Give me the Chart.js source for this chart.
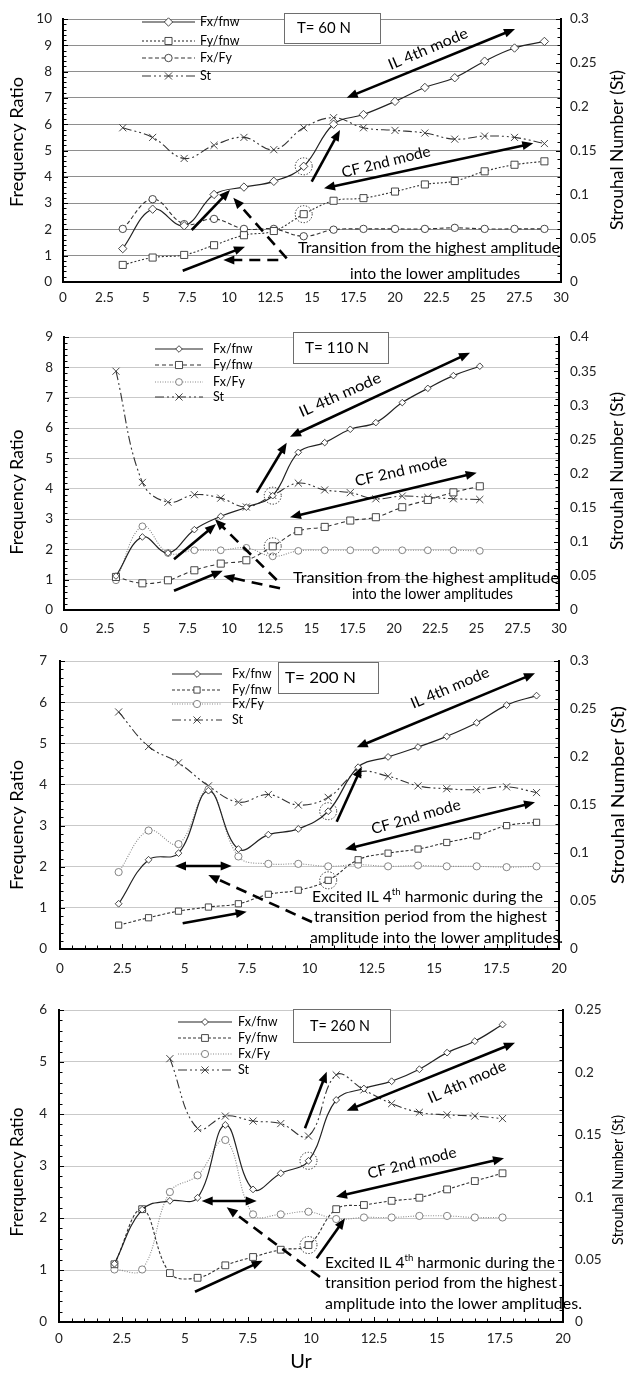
<!DOCTYPE html>
<html><head><meta charset="utf-8">
<script src="https://cdn.jsdelivr.net/npm/chart.js@4.4.1/dist/chart.umd.min.js"></script>
<style>
html,body{margin:0;padding:0;background:#fff;overflow:hidden}
#wrap{position:relative;width:627px;height:1374px;background:#fff}
#wrap canvas{position:absolute;left:0}
</style></head><body>
<div id="wrap">
<canvas id="c60"></canvas><canvas id="c110"></canvas><canvas id="c200"></canvas><canvas id="c260"></canvas>
</div>
<script>
// ---------- tick values ----------
const xTicks30 = [0,2.5,5,7.5,10,12.5,15,17.5,20,22.5,25,27.5,30];
const xTicks20 = [0,2.5,5,7.5,10,12.5,15,17.5,20];
const frTicks60 = [0,1,2,3,4,5,6,7,8,9,10];
const frTicks110 = [0,1,2,3,4,5,6,7,8,9];
const frTicks200 = [0,1,2,3,4,5,6,7];
const frTicks260 = [0,1,2,3,4,5,6];
const stTicks60 = [0,0.05,0.1,0.15,0.2,0.25,0.3];
const stTicks110 = [0,0.05,0.1,0.15,0.2,0.25,0.3,0.35,0.4];
const stTicks200 = [0,0.05,0.1,0.15,0.2,0.25,0.3];
const stTicks260 = [0,0.05,0.1,0.15,0.2,0.25];
const seriesNames = ['Fx/fnw','Fy/fnw','Fx/Fy','St'];

// ---------- T = 60 N ----------
const ur60 = [3.6,5.4,7.3,9.1,10.9,12.7,14.5,16.3,18.1,20.0,21.8,23.6,25.4,27.2,29.0];
const fxfnw60 = [1.27,2.77,2.14,3.33,3.61,3.83,4.4,6.0,6.37,6.87,7.4,7.77,8.4,8.9,9.15];
const fyfnw60 = [0.65,0.93,1.03,1.4,1.78,1.94,2.58,3.09,3.19,3.44,3.71,3.84,4.21,4.46,4.59];
const fxfy60 = [2.02,3.15,2.2,2.4,2.02,2.02,1.74,1.99,2.02,2.02,2.02,2.06,2.02,2.02,2.02];
const st60 = [0.176,0.165,0.141,0.156,0.165,0.151,0.176,0.1875,0.176,0.173,0.170,0.163,0.1665,0.165,0.158];

// ---------- T = 110 N ----------
const ur110 = [3.15,4.75,6.3,7.9,9.5,11.05,12.65,14.2,15.8,17.35,18.9,20.5,22.05,23.6,25.2];
const fxfnw110 = [1.12,2.41,1.88,2.65,3.09,3.39,3.77,5.2,5.52,5.96,6.18,6.84,7.31,7.73,8.04];
const fyfnw110 = [1.09,0.88,0.98,1.31,1.53,1.64,2.1,2.6,2.74,2.95,3.06,3.39,3.63,3.88,4.08];
const fxfy110 = [0.98,2.76,1.88,1.97,1.97,2.05,1.77,1.95,1.97,1.97,1.97,1.97,1.97,1.97,1.95];
const st110 = [0.350,0.187,0.158,0.169,0.164,0.151,0.168,0.186,0.176,0.172,0.163,0.167,0.165,0.163,0.162];

// ---------- T = 200 N ----------
const ur200 = [2.35,3.55,4.75,5.95,7.15,8.35,9.55,10.75,11.95,13.15,14.35,15.5,16.7,17.9,19.1];
const fxfnw200 = [1.1,2.17,2.33,3.85,2.43,2.78,2.92,3.35,4.42,4.67,4.91,5.17,5.5,5.93,6.16];
const fyfnw200 = [0.58,0.76,0.92,1.02,1.1,1.33,1.43,1.67,2.17,2.33,2.43,2.59,2.75,3.0,3.08];
const fxfy200 = [1.87,2.88,2.55,3.88,2.25,2.07,2.07,2.01,2.05,2.01,2.03,2.01,2.01,1.99,2.01];
const st200 = [0.247,0.211,0.194,0.170,0.153,0.161,0.150,0.158,0.184,0.180,0.170,0.167,0.166,0.169,0.163];

// ---------- T = 260 N ----------
const ur260 = [2.2,3.3,4.4,5.5,6.6,7.7,8.8,9.9,11.0,12.1,13.2,14.3,15.4,16.5,17.6];
const fxfnw260 = [1.12,2.16,2.33,2.39,3.79,2.55,2.86,3.1,4.27,4.49,4.63,4.86,5.18,5.4,5.72];
const fyfnw260 = [1.11,2.17,0.94,0.85,1.09,1.25,1.39,1.48,2.17,2.25,2.33,2.39,2.55,2.71,2.86];
const fxfy260 = [1.01,1.01,2.5,2.82,3.5,2.07,2.07,2.12,1.98,2.01,2.01,2.04,2.04,2.01,2.01];
const st260 = [null,null,0.211,0.155,0.165,0.161,0.159,0.149,0.198,0.186,0.175,0.168,0.166,0.165,0.163];

const FONT = 'Lato, "Open Sans", sans-serif';
const TXT = '#000';

const panels = [
 {id:'c60', top:0, h:305, padTop:16, xH:23, yW:63, y2W:66, ytPad:11, y2tPad:9, xtPad:8, xMinor:false,
  xTicks:xTicks30, yTicks:frTicks60, y2Ticks:stTicks60,
  ur:ur60, s:[fxfnw60,fyfnw60,fxfy60,st60], grid:'#8e8e8e',
  dash:[[],[2,2],[4,2.5],[9,3,2,3,2,3]], col:['#222','#333','#333','#333'], rad:[4.2,5,3.7,5],
  leg:{x1:142,x2:195,tx:200,rows:[22,41,58,76]},
  box:{x:284.5,y:13.5,w:96,h:30,text:'T= 60 N',tx:297,tw:54,size:15},
  ylab:{x:18,y:142,w:130,text:'Frequency Ratio',size:17}, y2lab:{x:618,y:150,w:160,size:17},
  rot:[{t:'IL 4th mode',x:428,y:49,w:85,a:-23},{t:'CF 2nd mode',x:386,y:162,w:91,a:-14}],
  para:[{t:'Transition from the highest amplitude',x:298,y:248,w:262,size:16},{t:'into the lower amplitudes',x:350,y:274,w:170,size:16}],
  arrows:[{x1:346.7,y1:97.7,x2:515,y2:29,both:1},{x1:311.7,y1:181.7,x2:340,y2:130},
   {x1:324,y1:188.3,x2:533.3,y2:143.3,both:1},{x1:191.7,y1:230,x2:230,y2:190},
   {x1:182.7,y1:270.7,x2:245,y2:246.7},{x1:286.7,y1:258.3,x2:233.3,y2:197.7,dash:1},
   {x1:278.3,y1:260,x2:223.3,y2:260,dash:1}],
  circles:[[0,6],[1,6]]},
 {id:'c110', top:318, h:322, padTop:18, xH:30, yW:64, y2W:68, ytPad:11, y2tPad:11, xtPad:11, xMinor:false,
  xTicks:xTicks30, yTicks:frTicks110, y2Ticks:stTicks110,
  ur:ur110, s:[fxfnw110,fyfnw110,fxfy110,st110], grid:'#c9c9c9',
  dash:[[],[4,3],[1,1.5],[9,3,2,3,2,3]], col:['#222','#333','#8a8a8a','#333'], rad:[3.3,5,3.4,5],
  leg:{x1:155,x2:203,tx:213,rows:[349,365,382,397]},
  box:{x:293.5,y:332.5,w:95,h:31,text:'T= 110 N',tx:305,tw:64,size:15},
  ylab:{x:18,y:492,w:125,text:'Frequency Ratio',size:17}, y2lab:{x:618,y:471,w:158,size:17},
  rot:[{t:'IL 4th mode',x:340,y:395,w:88,a:-24},{t:'CF 2nd mode',x:401,y:471,w:94,a:-13}],
  para:[{t:'Transition from the highest amplitude',x:293,y:578,w:266,size:16},{t:'into the lower amplitudes',x:352,y:594,w:161,size:16}],
  arrows:[{x1:290,y1:436.7,x2:470,y2:352.7,both:1},{x1:256.7,y1:492.7,x2:286.7,y2:442.7},
   {x1:290,y1:517.3,x2:476.7,y2:472.7,both:1},{x1:174,y1:559.3,x2:216,y2:524},
   {x1:174,y1:590.7,x2:222.7,y2:570.7},{x1:276.7,y1:580,x2:215,y2:519.3,dash:1},
   {x1:280,y1:588.3,x2:223.3,y2:576,dash:1}],
  circles:[[0,6],[1,6]]},
 {id:'c200', top:640, h:335, padTop:16, xH:26, yW:60, y2W:68, ytPad:13, y2tPad:11, xtPad:12, xMinor:true,
  xTicks:xTicks20, yTicks:frTicks200, y2Ticks:stTicks200,
  ur:ur200, s:[fxfnw200,fyfnw200,fxfy200,st200], grid:'#c9c9c9',
  dash:[[],[3,2],[1,1.5],[9,3,2,3,2,3]], col:['#222','#333','#8a8a8a','#333'], rad:[3.4,4.4,3.6,5],
  leg:{x1:172,x2:222,tx:232,rows:[674,690,704,720]},
  box:{x:278.5,y:662.5,w:100,h:31,text:'T= 200 N',tx:285,tw:71,size:16},
  ylab:{x:18,y:825,w:130,text:'Frequency Ratio',size:17}, y2lab:{x:618,y:795,w:178,size:18},
  rot:[{t:'IL 4th mode',x:450,y:688,w:84,a:-23},{t:'CF 2nd mode',x:416,y:817,w:92,a:-16}],
  runs:[{r:[{t:'Excited IL 4'},{t:'th',sup:1},{t:' harmonic during the'}],x:312,y:897,w:231,size:16},
   {r:[{t:'transition period from the highest'}],x:314,y:917,w:233,size:16},
   {r:[{t:'amplitude into the lower amplitudes.'}],x:310,y:938,w:253,size:16}],
  arrows:[{x1:356.7,y1:747.3,x2:535,y2:673.3,both:1},{x1:336.7,y1:821.7,x2:361.7,y2:766.7},
   {x1:345,y1:849.3,x2:535,y2:802.3,both:1},{x1:175,y1:866,x2:231.7,y2:866,both:1},
   {x1:182.7,y1:923.3,x2:246.7,y2:911.7},{x1:312,y1:922,x2:208.3,y2:875,dash:1}],
  circles:[[0,7],[1,7]]},
 {id:'c260', top:975, h:399, padTop:35, xH:52, yW:59, y2W:64, ytPad:12, y2tPad:12, xtPad:9, xMinor:true,
  xTicks:xTicks20, yTicks:frTicks260, y2Ticks:stTicks260,
  ur:ur260, s:[fxfnw260,fyfnw260,fxfy260,st260], grid:'#c9c9c9',
  dash:[[],[3,2],[1,1.5],[9,3,2,3,2,3]], col:['#222','#333','#8a8a8a','#333'], rad:[3.4,4.8,3.6,5],
  leg:{x1:178,x2:232,tx:238,rows:[1022,1038,1054,1070]},
  box:{x:293.5,y:1009.5,w:97,h:33,text:'T= 260 N',tx:310,tw:60,size:15},
  ylab:{x:18,y:1172,w:129,text:'Frerquency Ratio',size:17}, y2lab:{x:618,y:1180,w:130,size:16},
  xlab:{x:301,y:1362,text:'Ur',size:20},
  rot:[{t:'IL 4th mode',x:467,y:1082,w:84,a:-24},{t:'CF 2nd mode',x:412,y:1163,w:91,a:-14}],
  runs:[{r:[{t:'Excited IL 4'},{t:'th',sup:1},{t:' harmonic during the'}],x:325,y:1263,w:230,size:16},
   {r:[{t:'transition period from the highest'}],x:325,y:1283,w:232,size:16},
   {r:[{t:'amplitude into the lower amplitudes.'}],x:325,y:1304,w:257,size:16}],
  arrows:[{x1:346.7,y1:1110.7,x2:515,y2:1042.7,both:1},{x1:305,y1:1128.3,x2:326.7,y2:1071.7},
   {x1:336,y1:1196.7,x2:504,y2:1158.3,both:1},{x1:201.7,y1:1201,x2:256.7,y2:1201,both:1},
   {x1:195,y1:1291.7,x2:262.7,y2:1260.7},{x1:320,y1:1277,x2:226.7,y2:1207.3,dash:1},
   {x1:316.7,y1:1258.3,x2:345,y2:1218.3}],
  circles:[[0,7],[1,7]]}
];
const panelById = {}; panels.forEach(p=>panelById[p.id]=p);
const styles = ['rectRot','rect','circle','crossRot'];

function drawFit(ctx, text, x, y, width, size, o) {
  o = o || {};
  ctx.save();
  ctx.font = size + 'px ' + FONT;
  const m = ctx.measureText(text).width;
  ctx.translate(x, y);
  if (o.angle) ctx.rotate(o.angle * Math.PI / 180);
  if (width) ctx.scale(width / m, 1);
  ctx.textBaseline = 'middle';
  ctx.textAlign = o.center ? 'center' : 'left';
  ctx.fillStyle = TXT;
  ctx.fillText(text, 0, 0);
  ctx.restore();
}
function drawRuns(ctx, runs, x, y, width, size) {
  ctx.save();
  const ws = []; let total = 0;
  runs.forEach(r => { ctx.font = (r.sup ? size * 0.62 : size) + 'px ' + FONT; const w = ctx.measureText(r.t).width; ws.push(w); total += w; });
  ctx.translate(x, y); ctx.scale(width / total, 1);
  ctx.textBaseline = 'middle'; ctx.textAlign = 'left'; ctx.fillStyle = TXT;
  let cx = 0;
  runs.forEach((r, i) => { ctx.font = (r.sup ? size * 0.62 : size) + 'px ' + FONT; ctx.fillText(r.t, cx, r.sup ? -size * 0.33 : 0); cx += ws[i]; });
  ctx.restore();
}
function head(ctx, x1, y1, x2, y2, len, w) {
  const a = Math.atan2(y2 - y1, x2 - x1);
  const bx = x2 - len * Math.cos(a), by = y2 - len * Math.sin(a);
  ctx.beginPath();
  ctx.moveTo(x2, y2);
  ctx.lineTo(bx + w / 2 * Math.sin(a), by - w / 2 * Math.cos(a));
  ctx.lineTo(bx - w / 2 * Math.sin(a), by + w / 2 * Math.cos(a));
  ctx.closePath(); ctx.fill();
}
function arrow(ctx, a, top) {
  const x1 = a.x1, y1 = a.y1 - top, x2 = a.x2, y2 = a.y2 - top;
  const len = 11, w = 9, ang = Math.atan2(y2 - y1, x2 - x1);
  let sx = x1, sy = y1;
  if (a.both) { sx = x1 + Math.cos(ang) * len * 0.8; sy = y1 + Math.sin(ang) * len * 0.8; }
  const ex = x2 - Math.cos(ang) * len * 0.8, ey = y2 - Math.sin(ang) * len * 0.8;
  ctx.save(); ctx.strokeStyle = '#000'; ctx.fillStyle = '#000'; ctx.lineWidth = 2.6;
  ctx.setLineDash(a.dash ? [11, 7] : []);
  ctx.beginPath(); ctx.moveTo(sx, sy); ctx.lineTo(ex, ey); ctx.stroke();
  ctx.setLineDash([]);
  head(ctx, x1, y1, x2, y2, len, w);
  if (a.both) head(ctx, x2, y2, x1, y1, len, w);
  ctx.restore();
}
function marker(ctx, style, x, y, r, stroke) {
  ctx.save(); ctx.setLineDash([]); ctx.strokeStyle = stroke; ctx.fillStyle = '#fff'; ctx.lineWidth = 0.9;
  if (window.Chart && Chart.helpers && Chart.helpers.drawPoint) {
    Chart.helpers.drawPoint(ctx, {pointStyle: style, radius: r, rotation: 0, borderWidth: 0.9}, x, y);
  } else {
    ctx.beginPath();
    if (style === 'circle') ctx.arc(x, y, r, 0, Math.PI * 2);
    else if (style === 'rect') { const s = r * Math.SQRT1_2; ctx.rect(x - s, y - s, 2 * s, 2 * s); }
    else if (style === 'rectRot') { ctx.moveTo(x, y - r); ctx.lineTo(x + r, y); ctx.lineTo(x, y + r); ctx.lineTo(x - r, y); ctx.closePath(); }
    else { const s = r * Math.SQRT1_2; ctx.moveTo(x - s, y - s); ctx.lineTo(x + s, y + s); ctx.moveTo(x + s, y - s); ctx.lineTo(x - s, y + s); }
    if (style !== 'crossRot') ctx.fill();
    ctx.stroke();
  }
  ctx.restore();
}

const notesPlugin = {
  id: 'notes',
  afterDraw(chart) {
    const p = panelById[chart.canvas.id]; if (!p) return;
    const ctx = chart.ctx, ca = chart.chartArea, T = p.top;
    const ys = chart.scales.y, y2 = chart.scales.y2, xs = chart.scales.x;
    ctx.save();
    ctx.strokeStyle = '#000'; ctx.lineWidth = 1;
    const ln = (a, b, c, d) => { ctx.beginPath(); ctx.moveTo(a, b); ctx.lineTo(c, d); ctx.stroke(); };
    const yt = p.yTicks, sy = (yt[1] - yt[0]) / 5;
    for (let k = 0; k <= (yt.length - 1) * 5; k++) {
      const py = Math.round(ys.getPixelForValue(k * sy)) + 0.5;
      ln(ca.left, py, ca.left + (k % 5 === 0 ? 5 : 3.5), py);
    }
    const st = p.y2Ticks, s2 = (st[1] - st[0]) / 5;
    for (let k = 0; k <= (st.length - 1) * 5; k++) {
      const py = Math.round(y2.getPixelForValue(k * s2)) + 0.5;
      ln(ca.right, py, ca.right - (k % 5 === 0 ? 5 : 3.5), py);
    }
    if (p.xMinor) {
      const xt = p.xTicks, sx = (xt[1] - xt[0]) / 5;
      for (let k = 0; k <= (xt.length - 1) * 5; k++) {
        const px = Math.round(xs.getPixelForValue(k * sx)) + 0.5;
        ln(px, ca.bottom, px, ca.bottom - (k % 5 === 0 ? 5 : 3.5));
      }
    }
    ctx.restore();

    chart.data.datasets.forEach((d, i) => {
      const y = p.leg.rows[i] - T;
      ctx.save(); ctx.strokeStyle = d.borderColor; ctx.lineWidth = d.borderWidth; ctx.setLineDash(d.borderDash || []);
      ctx.beginPath(); ctx.moveTo(p.leg.x1, y); ctx.lineTo(p.leg.x2, y); ctx.stroke(); ctx.restore();
      marker(ctx, d.pointStyle, (p.leg.x1 + p.leg.x2) / 2, y, d.pointRadius, d.pointBorderColor);
      ctx.save(); ctx.font = '12.5px ' + FONT; ctx.fillStyle = TXT; ctx.textBaseline = 'middle';
      ctx.fillText(d.label, p.leg.tx, y); ctx.restore();
    });

    ctx.save(); ctx.strokeStyle = '#6e6e6e'; ctx.lineWidth = 1; ctx.fillStyle = '#fff';
    ctx.fillRect(p.box.x, p.box.y - T, p.box.w, p.box.h);
    ctx.strokeRect(p.box.x, p.box.y - T, p.box.w, p.box.h); ctx.restore();
    drawFit(ctx, p.box.text, p.box.tx, p.box.y - T + p.box.h / 2, p.box.tw, p.box.size);

    drawFit(ctx, p.ylab.text, p.ylab.x, p.ylab.y - T, p.ylab.w, p.ylab.size, {angle: -90, center: true});
    drawFit(ctx, 'Strouhal Number (St)', p.y2lab.x, p.y2lab.y - T, p.y2lab.w, p.y2lab.size, {angle: -90, center: true});
    if (p.xlab) drawFit(ctx, p.xlab.text, p.xlab.x, p.xlab.y - T, 0, p.xlab.size, {center: true});

    p.rot.forEach(r => drawFit(ctx, r.t, r.x, r.y - T, r.w, 15, {angle: r.a, center: true}));
    (p.para || []).forEach(t => drawFit(ctx, t.t, t.x, t.y - T, t.w, t.size));
    (p.runs || []).forEach(t => drawRuns(ctx, t.r, t.x, t.y - T, t.w, t.size));

    p.circles.forEach(([di, pi]) => {
      const el = chart.getDatasetMeta(di).data[pi];
      ctx.save(); ctx.strokeStyle = '#222'; ctx.lineWidth = 1; ctx.setLineDash([1.3, 1.7]);
      ctx.beginPath(); ctx.arc(el.x, el.y, 8.5, 0, Math.PI * 2); ctx.stroke(); ctx.restore();
    });

    p.arrows.forEach(a => arrow(ctx, a, T));
  }
};

function build(p) {
  const cv = document.getElementById(p.id);
  cv.width = 627; cv.height = p.h;
  cv.style.top = p.top + 'px'; cv.style.width = '627px'; cv.style.height = p.h + 'px';
  const datasets = p.s.map((vals, i) => ({
    label: seriesNames[i],
    data: p.ur.map((x, k) => ({x: x, y: vals[k]})),
    yAxisID: i === 3 ? 'y2' : 'y',
    borderColor: p.col[i], borderWidth: i === 0 ? 1.2 : 1.1, borderDash: p.dash[i],
    pointStyle: styles[i], pointRadius: p.rad[i], pointBorderColor: p.col[i] === '#8a8a8a' ? '#777' : '#333',
    pointBackgroundColor: '#fff', pointBorderWidth: 0.9, tension: 0.4, fill: false, spanGaps: false
  }));
  const tickFont = {family: FONT, size: 13.5};
  const border = {display: true, color: '#000', width: 2};
  new Chart(cv, {
    type: 'line',
    data: {datasets},
    options: {
      responsive: false, animation: false, devicePixelRatio: 1,
      layout: {padding: {top: p.padTop, left: 0, right: 0, bottom: 0}},
      plugins: {legend: {display: false}, tooltip: {enabled: false}},
      scales: {
        x: {type: 'linear', min: p.xTicks[0], max: p.xTicks[p.xTicks.length - 1],
          afterBuildTicks: s => { s.ticks = p.xTicks.map(v => ({value: v})); },
          afterFit: s => { s.height = p.xH; },
          grid: {display: false, drawTicks: false}, border,
          ticks: {padding: p.xtPad, font: tickFont, color: '#222', autoSkip: false, maxRotation: 0, callback: v => String(v)}},
        y: {position: 'left', min: p.yTicks[0], max: p.yTicks[p.yTicks.length - 1],
          afterBuildTicks: s => { s.ticks = p.yTicks.map(v => ({value: v})); },
          afterFit: s => { s.width = p.yW; },
          grid: {color: p.grid, lineWidth: 1, drawTicks: false}, border,
          ticks: {padding: p.ytPad, font: tickFont, color: '#222', callback: v => String(v)}},
        y2: {position: 'right', min: p.y2Ticks[0], max: p.y2Ticks[p.y2Ticks.length - 1],
          afterBuildTicks: s => { s.ticks = p.y2Ticks.map(v => ({value: v})); },
          afterFit: s => { s.width = p.y2W; },
          grid: {display: false, drawTicks: false}, border,
          ticks: {padding: p.y2tPad, font: tickFont, color: '#222', callback: v => String(v)}}
      }
    },
    plugins: [notesPlugin]
  });
}
panels.forEach(build);
</script>
</body></html>
